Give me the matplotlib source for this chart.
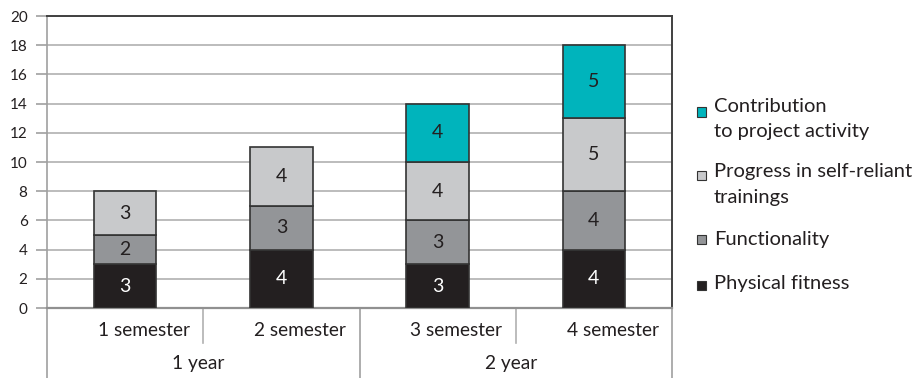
import matplotlib
matplotlib.use("Agg")
import matplotlib.pyplot as plt
from matplotlib.patches import Rectangle
import numpy as np

plt.rcParams['font.family'] = ['Lato', 'DejaVu Sans']

semesters = ["1 semester", "2 semester", "3 semester", "4 semester"]
years = ["1 year", "2 year"]
physical = [3, 4, 3, 4]
functionality = [2, 3, 3, 4]
progress = [3, 4, 4, 5]
contribution = [0, 0, 4, 5]
colors = ["#231f20", "#939598", "#c8c9cb", "#00b4bc"]
text_colors = ["white", "#231f20", "#231f20", "#231f20"]

W, H = 915, 378
fig = plt.figure(figsize=(W / 100, H / 100), dpi=100)
L, R, T, B = 47, 672, 16, 308
ax = fig.add_axes([L / W, 1 - B / H, (R - L) / W, (B - T) / H])

x = np.arange(len(semesters))
bottom = np.zeros(len(semesters))
for vals, c, tc in zip([physical, functionality, progress, contribution], colors, text_colors):
    vals = np.array(vals, dtype=float)
    mask = vals > 0
    ax.bar(x[mask], vals[mask], 0.4, bottom=bottom[mask], color=c,
           edgecolor="#333333", linewidth=1.2, zorder=3)
    for xi, v, b in zip(x[mask], vals[mask], bottom[mask]):
        ax.text(xi, b + v / 2, f"{int(v)}", ha="center", va="center",
                color=tc, fontsize=14, zorder=4)
    bottom += vals

ax.set_xlim(-0.5, 3.5)
ax.set_ylim(0, 20)
ax.set_yticks(range(0, 21, 2))
ax.yaxis.grid(True, color="#b0b0b0", linewidth=1.2, zorder=0)
ax.set_axisbelow(True)
ax.tick_params(axis="y", length=8, color="#a0a0a0", width=1.2, labelsize=11,
               pad=6, labelcolor="#231f20")
ax.set_xticks([])
for s in ["top", "right"]:
    ax.spines[s].set_color("#404040")
    ax.spines[s].set_linewidth(1.4)
ax.spines["left"].set_color("#a0a0a0")
ax.spines["left"].set_linewidth(1.2)
ax.spines["bottom"].set_color("#909090")
ax.spines["bottom"].set_linewidth(1.6)

# category axis
tr = ax.get_xaxis_transform()
h_px = B - T
y_short = -(343 - B) / h_px
y_long = -(H - B + 2) / h_px
for xs in [0.5, 2.5]:
    ax.plot([xs, xs], [0, y_short], transform=tr, color="#b0b0b0", lw=1.2, clip_on=False)
for xs in [-0.5, 1.5, 3.5]:
    ax.plot([xs, xs], [0, y_long], transform=tr, color="#a0a0a0", lw=1.2, clip_on=False)
y_sem = -(330 - B) / h_px
y_year = -(364 - B) / h_px
for xi, s in zip(x, semesters):
    ax.text(xi + 0.12, y_sem, s, transform=tr, ha="center", va="center",
            fontsize=13.8, color="#231f20")
for i, yname in enumerate(years):
    ax.text(2 * i + 0.47, y_year, yname, transform=tr, ha="center", va="center",
            fontsize=13.8, color="#231f20")

# legend
def fy(py):
    return 1 - py / H

legend_items = [
    (colors[3], ["Contribution", "to project activity"], [107, 132], 112),
    (colors[2], ["Progress in self-reliant", "trainings"], [172, 198], 175),
    (colors[1], ["Functionality"], [239], 239),
    (colors[0], ["Physical fitness"], [284], 285),
]
sq = 9
for c, lines, ys, sqy in legend_items:
    fig.patches.append(Rectangle(((697) / W, fy(sqy + sq / 2)), sq / W, sq / H,
                                 transform=fig.transFigure, facecolor=c,
                                 edgecolor="#333333", linewidth=0.8))
    for line, yy in zip(lines, ys):
        fig.text(714 / W, fy(yy), line, ha="left", va="center", fontsize=14.5,
                 color="#231f20")

fig.savefig("out.png", dpi=100)
